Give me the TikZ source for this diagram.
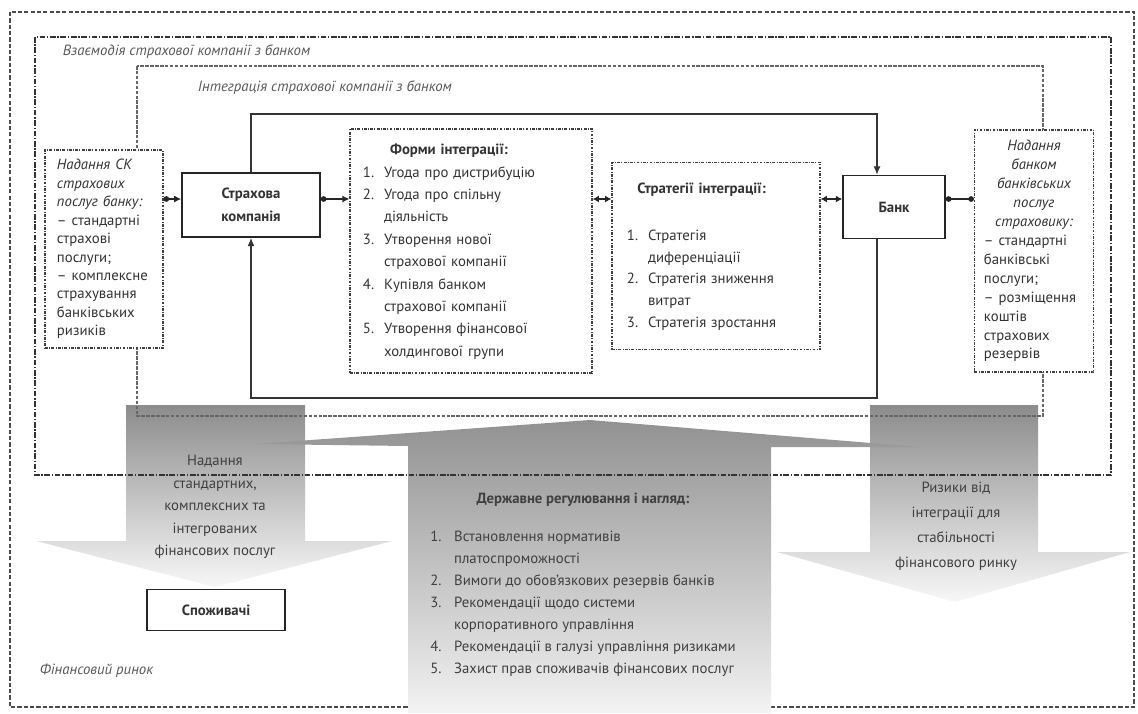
\documentclass[tikz,border=0pt]{standalone}
\usepackage{fontspec}
\setmainfont{PT Sans}
\usepackage{xcolor}
\usetikzlibrary{arrows.meta}

\begin{document}
\begin{tikzpicture}
			[x=0.025cm,y=-0.025cm,
			 every node/.style={font=\fontsize{10.5}{13}\selectfont,text=black!80},
			 solidbox/.style={draw=black!85,line width=1.1pt,fill=white,inner sep=0pt},
			 dotbox/.style={draw=black!75,line width=0.8pt,dash pattern=on 2pt off 1pt on 0.6pt off 1pt,fill=white,inner sep=0pt},
			 outerframe/.style={draw=black!70,line width=0.8pt,dash pattern=on 3pt off 1.5pt},
			 midframe/.style={draw=black!80,line width=0.9pt,dash pattern=on 4pt off 1.2pt on 1pt off 1.2pt},
			 innerframe/.style={draw=black!60,line width=0.8pt,dash pattern=on 2.5pt off 1pt},
			 loopline/.style={draw=black!80,line width=1pt},
			 link/.style={draw=black!85,line width=1pt},
			 grayarrow/.style={top color=black!45,middle color=black!26,bottom color=black!3},
			 framelabel/.style={font=\fontsize{10.5}{13}\selectfont\itshape,text=black!65,anchor=west}]
				\useasboundingbox (0,0) rectangle (1138,713);
				\draw[outerframe] (10,12) rectangle (1134,707);
				% сірі стрілки
				\shade[grayarrow] (126,405) -- (305,405) -- (305,541) -- (392,541) -- (215,587) -- (36,541) -- (126,541) -- cycle;
				\shade[grayarrow] (870,405) -- (1038,405) -- (1038,552) -- (1130,552) -- (955,602) -- (777,552) -- (870,552) -- cycle;
				\shade[top color=black!43,middle color=black!27,bottom color=black!5] (408,713) -- (408,446) -- (255,444) -- (590,420) -- (920,447) -- (771,447) -- (771,713) -- cycle;
				\draw[midframe] (35,37) rectangle (1111,475);
				\draw[innerframe] (137,66) rectangle (1043,416);
				\node[framelabel] (interact) at (58,52) {Взаємодія страхової компанії з банком};
				\node[framelabel] (integr) at (193,88) {Інтеграція страхової компанії з банком};
				\node[framelabel] (market) at (35,671) {Фінансовий ринок};
				\node[solidbox,minimum width=3.45cm,minimum height=1.6cm,align=center,font=\fontsize{10.5}{16}\selectfont\bfseries] (ins) at (251,205)
					{Страхова\\компанія};
				\node[solidbox,minimum width=2.55cm,minimum height=1.575cm,font=\fontsize{10.5}{13}\selectfont\bfseries] (bank) at (894,207) {Банк};
				\node[dotbox,minimum width=2.95cm,minimum height=4.95cm,text width=2.35cm,align=left] (insserv) at (104,249)
					{\fontsize{10.5}{13.1}\selectfont\itshape Надання СК\\страхових\\послуг банку:\\\upshape – стандартні\\страхові\\послуги;\\– комплексне\\страхування\\банківських\\ризиків};
				\node[dotbox,minimum width=2.975cm,minimum height=6.05cm,text width=2.5cm,align=left] (bankserv) at (1034,251)
					{\fontsize{10.5}{13.5}\selectfont{\centering\itshape Надання\\банком\\банківських\\послуг\\страховику:\par}– стандартні\\банківські\\послуги;\\– розміщення\\коштів\\страхових\\резервів};
				\node[dotbox,minimum width=6.05cm,minimum height=6.1cm,text width=5.4cm,align=left] (forms) at (471,251)
					{\fontsize{10.5}{15.9}\selectfont
					\begin{tabular}{@{}l@{\hspace{7pt}}l@{}}
					\multicolumn{2}{c}{\bfseries Форми інтеграції:}\\
					1. & Угода про дистрибуцію\\
					2. & Угода про спільну\\
					   & діяльність\\
					3. & Утворення нової\\
					   & страхової компанії\\
					4. & Купівля банком\\
					   & страхової компанії\\
					5. & Утворення фінансової\\
					   & холдингової групи
					\end{tabular}};
				\node[dotbox,minimum width=5.2cm,minimum height=4.675cm,text width=4.45cm,align=left] (strat) at (716,256)
					{\fontsize{10.5}{15.5}\selectfont
					\begin{tabular}{@{}l@{\hspace{7pt}}l@{}}
					\multicolumn{2}{c}{\bfseries Стратегії інтеграції:}\\[18pt]
					1. & Стратегія\\
					   & диференціації\\
					2. & Стратегія зниження\\
					   & витрат\\
					3. & Стратегія зростання
					\end{tabular}};
				\node[align=center,text=black!75,font=\fontsize{10.5}{16}\selectfont] (provide) at (215,507)
					{Надання\\стандартних,\\комплексних та\\інтегрованих\\фінансових послуг};
				\node[align=center,text=black!75,font=\fontsize{10.5}{17.7}\selectfont] (risks) at (956,526)
					{Ризики від\\інтеграції для\\стабільності\\фінансового ринку};
				\node[text=black!75] (regul) at (583,584)
					{\fontsize{10.5}{15.6}\selectfont
					\begin{tabular}{@{}l@{\hspace{9pt}}l@{}}
					\multicolumn{2}{c}{\bfseries Державне регулювання і нагляд:}\\[12pt]
					1. & Встановлення нормативів\\
					   & платоспроможності\\
					2. & Вимоги до обов’язкових резервів банків\\
					3. & Рекомендації щодо системи\\
					   & корпоративного управління\\
					4. & Рекомендації в галузі управління ризиками\\
					5. & Захист прав споживачів фінансових послуг
					\end{tabular}};
				\node[solidbox,minimum width=3.45cm,minimum height=1.025cm,font=\fontsize{10.5}{13}\selectfont\bfseries] (cons) at (216,610) {Споживачі};
				% контур між компанією і банком
				\coordinate (row) at (0,199);
				\coordinate (ltop) at (877,114);
				\coordinate (lbot) at (877,398);
				\draw[loopline,-{Latex[length=6pt,width=5pt]}] (ins.north) |- (ltop) -- (ltop |- bank.north);
				\draw[loopline,-{Latex[length=6pt,width=5pt]}] (lbot |- bank.south) -- (lbot) -| (ins.south);
				\draw[link,{Circle[length=4pt]}-{Latex[length=5pt,width=5pt]}] (insserv.east |- row) -- (ins.west |- row);
				\draw[link,{Circle[length=4pt]}-{Latex[length=5pt,width=5pt]}] (ins.east |- row) -- (forms.west |- row);
				\foreach \from/\to in {forms/strat,strat/bank}
				\draw[link,{Latex[length=4.5pt,width=5pt]}-{Latex[length=4.5pt,width=5pt]}] (\from.east |- row) -- (\to.west |- row);
				\draw[link,{Circle[length=4pt]}-{Circle[length=4pt]}] (bank.east |- row) -- (bankserv.west |- row);
			\end{tikzpicture}
\end{document}
